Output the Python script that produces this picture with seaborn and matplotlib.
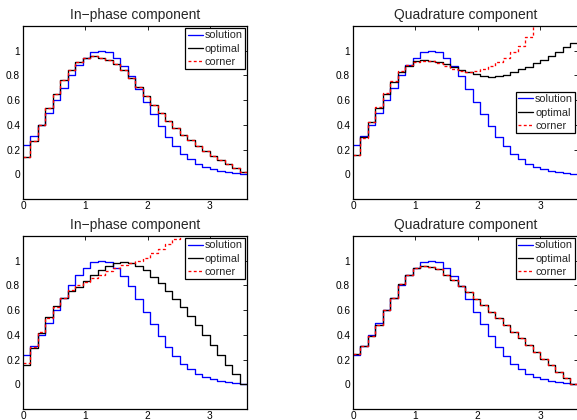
import numpy as np
import pandas as pd
import matplotlib
matplotlib.use("Agg")
import matplotlib.pyplot as plt
import seaborn as sns
from matplotlib.ticker import FuncFormatter

# ---------------- data (30 piecewise-constant bins of width 0.12 on [0, 3.6]) ----------------
bin_edges = [round(0.12 * k, 2) for k in range(31)]

solution = [0.235, 0.31, 0.40, 0.495, 0.60, 0.70, 0.80, 0.885, 0.945, 0.986,
            1.0, 0.986, 0.945, 0.877, 0.795, 0.69, 0.587, 0.487, 0.39, 0.30,
            0.228, 0.166, 0.122, 0.082, 0.058, 0.04, 0.027, 0.016, 0.008, 0.0]

# top-left: In-phase component
tl_optimal = [0.14, 0.27, 0.40, 0.533, 0.65, 0.76, 0.84, 0.91, 0.943, 0.954,
              0.943, 0.923, 0.896, 0.84, 0.778, 0.71, 0.634, 0.564, 0.492, 0.434,
              0.377, 0.32, 0.274, 0.228, 0.19, 0.15, 0.115, 0.082, 0.05, 0.022]
tl_corner = [0.14, 0.27, 0.40, 0.533, 0.65, 0.76, 0.84, 0.91, 0.943, 0.954,
             0.943, 0.923, 0.896, 0.84, 0.778, 0.71, 0.634, 0.564, 0.492, 0.434,
             0.377, 0.32, 0.274, 0.228, 0.19, 0.15, 0.115, 0.082, 0.05, 0.022]

# top-right: Quadrature component
tr_optimal = [0.16, 0.30, 0.42, 0.535, 0.65, 0.75, 0.83, 0.88, 0.915, 0.926,
              0.92, 0.907, 0.89, 0.869, 0.844, 0.826, 0.81, 0.797, 0.79, 0.792,
              0.805, 0.825, 0.848, 0.87, 0.9, 0.928, 0.956, 0.99, 1.03, 1.065]
tr_corner = [0.153, 0.295, 0.426, 0.544, 0.66, 0.754, 0.833, 0.885, 0.91, 0.918,
             0.913, 0.9, 0.88, 0.856, 0.838, 0.83, 0.833, 0.848, 0.875, 0.91,
             0.945, 0.99, 1.04, 1.115, 1.21, 1.31, 1.42, 1.54, 1.67, 1.80]

# bottom-left: In-phase component
bl_optimal = [0.16, 0.295, 0.418, 0.544, 0.63, 0.70, 0.754, 0.79, 0.836, 0.885,
              0.923, 0.96, 0.98, 0.99, 0.982, 0.96, 0.925, 0.872, 0.82, 0.757,
              0.692, 0.625, 0.555, 0.48, 0.40, 0.317, 0.24, 0.16, 0.085, 0.003]
bl_corner = [0.17, 0.30, 0.426, 0.533, 0.626, 0.70, 0.76, 0.80, 0.83, 0.863,
             0.888, 0.915, 0.943, 0.964, 0.98, 0.997, 1.025, 1.06, 1.095, 1.135,
             1.175, 1.22, 1.27, 1.33, 1.40, 1.48, 1.57, 1.67, 1.78, 1.90]

# bottom-right: Quadrature component
br_optimal = [0.243, 0.31, 0.39, 0.48, 0.598, 0.70, 0.81, 0.888, 0.937, 0.954,
              0.948, 0.93, 0.885, 0.842, 0.795, 0.746, 0.69, 0.643, 0.588, 0.535,
              0.48, 0.424, 0.372, 0.317, 0.262, 0.208, 0.153, 0.1, 0.05, 0.004]
br_corner = [0.243, 0.31, 0.39, 0.48, 0.598, 0.70, 0.81, 0.888, 0.937, 0.954,
             0.948, 0.93, 0.885, 0.842, 0.795, 0.746, 0.69, 0.643, 0.588, 0.535,
             0.48, 0.424, 0.372, 0.317, 0.262, 0.208, 0.153, 0.1, 0.05, 0.004]

titles = ["In\u2212phase component", "Quadrature component",
          "In\u2212phase component", "Quadrature component"]
series_labels = ["solution", "optimal", "corner"]
x_ticks = [0, 1, 2, 3]
y_ticks = [0, 0.2, 0.4, 0.6, 0.8, 1]

# ---------------- style ----------------
sns.set_style("white")
plt.rcParams["font.family"] = ["Liberation Sans", "DejaVu Sans"]
plt.rcParams["axes.linewidth"] = 0.8

W, H = 577, 420
fig = plt.figure(figsize=(W / 100, H / 100), dpi=100)

def ax_rect(left, top, right, bottom):
    return [left / W, 1 - bottom / H, (right - left) / W, (bottom - top) / H]

panels = [
    (ax_rect(23, 26, 247.2, 199), tl_optimal, tl_corner, "upper right"),
    (ax_rect(353, 26, 577.5, 199), tr_optimal, tr_corner, "center right"),
    (ax_rect(23, 236, 247.2, 409), bl_optimal, bl_corner, "upper right"),
    (ax_rect(353, 236, 577.5, 409), br_optimal, br_corner, "upper right"),
]

fmt = FuncFormatter(lambda v, p: f"{v:g}")

for i, (rect, opt, cor, loc) in enumerate(panels):
    ax = fig.add_axes(rect)
    series = [
        (solution, "#0000ff", "-", series_labels[0]),
        (opt, "#000000", "-", series_labels[1]),
        (cor, "#ff0000", (0, (2.2, 1.8)), series_labels[2]),
    ]
    for vals, col, ls, lab in series:
        df = pd.DataFrame({"x": bin_edges, "y": list(vals) + [vals[-1]]})
        sns.lineplot(data=df, x="x", y="y", ax=ax, color=col, linestyle=ls,
                     linewidth=0.95, drawstyle="steps-post", label=lab,
                     estimator=None, sort=False)
    ax.set_xlim(0, 3.6)
    ax.set_ylim(-0.2, 1.2)
    ax.set_xticks(x_ticks)
    ax.set_yticks(y_ticks)
    ax.xaxis.set_major_formatter(fmt)
    ax.yaxis.set_major_formatter(fmt)
    ax.set_xlabel("")
    ax.set_ylabel("")
    ax.tick_params(direction="in", length=3, width=0.6, top=True, right=True,
                   labelsize=7.3, pad=2.0, colors="black")
    ax.tick_params(axis="x", pad=1.5)
    for s in ax.spines.values():
        s.set_color("black")
        s.set_linewidth(0.9)
    ax.set_title(titles[i], fontsize=10, pad=5)
    leg = ax.legend(loc=loc, fontsize=7.8, frameon=True, fancybox=False,
                    framealpha=1, edgecolor="black", handlelength=1.4,
                    handletextpad=0.2, borderpad=0.2, labelspacing=0.3,
                    borderaxespad=0.2)
    leg.get_frame().set_linewidth(0.9)

fig.savefig("out.png", dpi=100)
